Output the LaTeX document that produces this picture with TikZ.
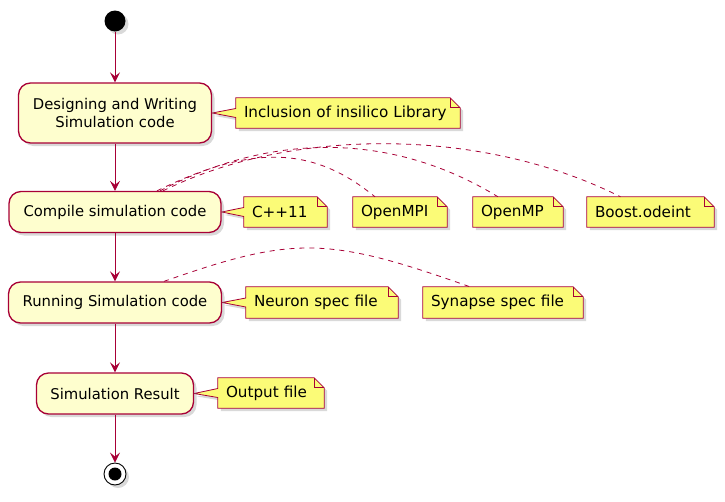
\documentclass[tikz,border=0pt]{standalone}
\usepackage{fontspec}
\setmainfont{DejaVu Sans}
\usetikzlibrary{arrows.meta,shadows,backgrounds}

\definecolor{umlred}{HTML}{A80036}
\definecolor{actfill}{HTML}{FEFECE}
\definecolor{notefill}{HTML}{FBFB77}

\tikzset{
  activity/.style={draw=umlred, fill=actfill, rounded corners=12pt, line width=1.3pt,
    align=center, inner sep=0pt, font=\fontsize{14.8}{18}\selectfont,
    drop shadow={shadow xshift=3pt, shadow yshift=-3pt, opacity=.3}},
  notetext/.style={inner ysep=0pt, inner xsep=8pt, align=left, font=\fontsize{15.2}{18}\selectfont},
  noteline/.style={draw=umlred, fill=notefill, line width=0.8pt,
    drop shadow={shadow xshift=3pt, shadow yshift=-3pt, opacity=.3}},
  flow/.style={draw=umlred, line width=0.9pt, -{Stealth[length=10pt,width=10pt,inset=4pt]}},
  link/.style={draw=umlred, line width=0.8pt, dash pattern=on 5pt off 5pt},
}

% note outline with folded corner
\newcommand{\notebox}[1]{%
  \path[noteline] (#1.north west) -- ([xshift=-10pt]#1.north east) -- ([yshift=-10pt]#1.north east)
    -- (#1.south east) -- (#1.south west) -- cycle;
  \draw[umlred, line width=0.8pt] ([xshift=-10pt]#1.north east) |- ([yshift=-10pt]#1.north east);}
% note outline with a pointer to #2
\newcommand{\notecall}[2]{%
  \path[noteline] (#1.north west) -- ([xshift=-10pt]#1.north east) -- ([yshift=-10pt]#1.north east)
    -- (#1.south east) -- (#1.south west) -- ([yshift=-4.5pt]#1.west) -- (#2.east)
    -- ([yshift=4.5pt]#1.west) -- cycle;
  \draw[umlred, line width=0.8pt] ([xshift=-10pt]#1.north east) |- ([yshift=-10pt]#1.north east);}

\begin{document}
\begin{tikzpicture}[x=1pt, y=-1pt]
  \useasboundingbox (0,0) rectangle (725,501);

  % start and activities
  \node[circle, fill=black, inner sep=0pt, minimum size=21pt,
    drop shadow={shadow xshift=3pt, shadow yshift=-3pt, opacity=.3}] (start) at (115,21) {};
  \node[activity, minimum width=193pt, minimum height=60pt] (design) at (115,113)
    {Designing and Writing\\Simulation code};
  \node[activity, minimum width=212pt, minimum height=41pt] (compile) at (115,212)
    {Compile simulation code};
  \node[activity, minimum width=213pt, minimum height=41pt] (running) at (115,302.5)
    {Running Simulation code};
  \node[activity, minimum width=157pt, minimum height=41pt] (result) at (115,393.5)
    {Simulation Result};
  \node[circle, draw=black, fill=white, line width=0.9pt, inner sep=0pt, minimum size=22pt,
    drop shadow={shadow xshift=3pt, shadow yshift=-3pt, opacity=.3}] (stop) at (115,474) {};
  \node[circle, fill=black, inner sep=0pt, minimum size=13pt] (stopdot) at (stop) {};

  % notes
  \node[notetext, text width=208pt, minimum height=30pt] (insilico) at (348,113) {Inclusion of insilico Library};
  \node[notetext, text width=67pt, minimum height=30pt] (cpp) at (285.5,212) {C++11};
  \node[notetext, text width=78pt, minimum height=30pt] (mpi) at (400,212) {OpenMPI};
  \node[notetext, text width=74pt, minimum height=30pt] (omp) at (518,212) {OpenMP};
  \node[notetext, text width=111pt, minimum height=30pt] (odeint) at (650.5,212) {Boost.odeint};
  \node[notetext, text width=136pt, minimum height=31pt] (neuron) at (322,302.5) {Neuron spec file};
  \node[notetext, text width=144pt, minimum height=31pt] (synapse) at (503,302.5) {Synapse spec file};
  \node[notetext, text width=90pt, minimum height=30pt] (output) at (271,393) {Output file};

  \begin{scope}[on background layer]
    \notecall{insilico}{design}
    \notecall{cpp}{compile}
    \notebox{mpi}
    \notebox{omp}
    \notebox{odeint}
    \notecall{neuron}{running}
    \notebox{synapse}
    \notecall{output}{result}
  \end{scope}

  % flow
  \draw[flow] (start) -- (design);
  \draw[flow] (design) -- (compile);
  \draw[flow] (compile) -- (running);
  \draw[flow] (running) -- (result);
  \draw[flow] (result) -- (stop);

  % dashed links
  \draw[link] ([xshift=42pt]compile.north) .. controls (250,145) and (312,145) .. ([xshift=-25pt]mpi.north);
  \draw[link] ([xshift=45pt]compile.north) .. controls (272,132) and (392,132) .. ([xshift=-20pt]omp.north);
  \draw[link] ([xshift=48pt]compile.north) .. controls (292,127) and (482,127) .. ([xshift=-30pt]odeint.north);
  \draw[link] ([xshift=49pt]running.north) .. controls (293,236) and (327,236) .. ([xshift=-33pt]synapse.north);
\end{tikzpicture}
\end{document}
